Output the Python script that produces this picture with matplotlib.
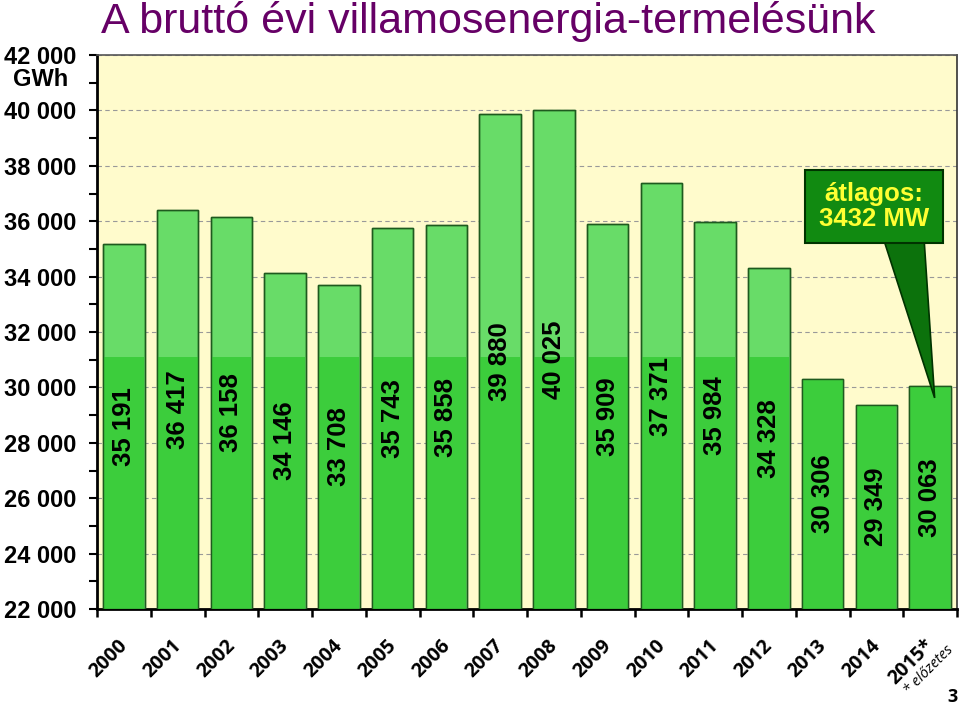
import matplotlib
matplotlib.use("Agg")
import matplotlib.pyplot as plt
from matplotlib.patches import Rectangle, Polygon
from matplotlib.ticker import MultipleLocator, FuncFormatter

years = ["2000", "2001", "2002", "2003", "2004", "2005", "2006", "2007",
         "2008", "2009", "2010", "2011", "2012", "2013", "2014", "2015*"]
values = [35191, 36417, 36158, 34146, 33708, 35743, 35858, 39880,
          40025, 35909, 37371, 35984, 34328, 30306, 29349, 30063]
title = "A bruttó évi villamosenergia-termelésünk"
unit = "GWh"
callout = "átlagos:\n3432 MW"
note = "* előzetes"
page = "3"

ymin, ymax = 22000, 42000
shade_level = 31100

fig = plt.figure(figsize=(9.6, 7.07), dpi=100)
ax = fig.add_axes([97/960, 98/707, 860/960, 554/707])
ax.set_facecolor("#fffbcc")

x = list(range(len(years)))
light = "#68dc68"
dark = "#3ccd3c"
edge = "#1e5a1e"
ax.bar(x, [v - ymin for v in values], bottom=ymin, width=0.77,
       color=light, edgecolor=edge, linewidth=1.0, zorder=3)
ax.bar(x, [min(v, shade_level) - ymin for v in values], bottom=ymin, width=0.74,
       color=dark, edgecolor="none", linewidth=0, zorder=3.5)
ax.bar(x, [v - ymin for v in values], bottom=ymin, width=0.77,
       color="none", edgecolor=edge, linewidth=1.0, zorder=4)

for xi, v in zip(x, values):
    lab = f"{v:,}".replace(",", " ")
    ax.text(xi, (ymin + v) / 2, lab, rotation=90, ha="center", va="center",
            fontsize=18.5, fontweight="bold", family="Liberation Sans",
            color="black", zorder=5)

ax.set_xlim(-0.5, len(years) - 0.5)
ax.set_ylim(ymin, ymax)
ax.yaxis.set_major_locator(MultipleLocator(2000))
ax.yaxis.set_minor_locator(MultipleLocator(1000))
ax.yaxis.set_major_formatter(FuncFormatter(lambda v, p: f"{int(v):,}".replace(",", " ")))
ax.tick_params(axis="y", which="both", direction="out", length=5.5, width=1.5,
               labelsize=17, pad=9.5)
for t in ax.yaxis.get_major_ticks():
    t.label1.set_family("Liberation Sans")
    t.label1.set_fontweight("bold")
ax.grid(axis="y", which="major", linestyle=(0, (4, 3)), color="#999999",
        linewidth=0.8, zorder=1)

ax.set_xticks([i - 0.5 for i in range(len(years) + 1)])
ax.set_xticklabels([])
ax.tick_params(axis="x", which="both", direction="out", length=6, width=1.8)
for i, yl in enumerate(years):
    ax.text(i - 0.12, -0.048, yl, transform=ax.get_xaxis_transform(),
            rotation=45, ha="right", va="top", rotation_mode="anchor",
            fontsize=14, fontweight="bold", family="Open Sans", color="black")

for s in ["left", "bottom"]:
    ax.spines[s].set_linewidth(2)
    ax.spines[s].set_color("black")
ax.spines["top"].set_color("#555555")
ax.spines["top"].set_linewidth(1.2)
ax.spines["right"].set_color("#333333")
ax.spines["right"].set_linewidth(1.2)

# unit label
fig.text(41/960, 1 - 80/707, unit, ha="center", va="center",
         fontsize=17, family="Liberation Sans", fontweight="bold")

fig.text(488/960, 1 - 21/707, title, ha="center", va="center",
         fontsize=31, color="#660066", family="Liberation Sans")

# callout
tri = Polygon([(0.916, 0.661), (0.962, 0.661), (0.974, 0.381)], closed=True,
              transform=ax.transAxes, facecolor="#0c720c", edgecolor="#003300",
              linewidth=1.2, zorder=6)
ax.add_patch(tri)
box = Rectangle((0.823, 0.661), 0.161, 0.131, transform=ax.transAxes,
                facecolor="#118a11", edgecolor="#003300", linewidth=1.5, zorder=7)
ax.add_patch(box)
ax.text(0.9035, 0.7265, callout, transform=ax.transAxes, ha="center",
        va="center", fontsize=18.5, fontweight="bold", color="#ffff33",
        family="Liberation Sans", linespacing=1.1, zorder=8)

fig.text(929/960, 1 - 670/707, note, rotation=45, ha="center", va="center",
         fontsize=10.5, style="italic", family="Open Sans")
fig.text(953/960, 1 - 697/707, page, ha="center", va="center",
         fontsize=13, fontweight="bold", family="Open Sans")

fig.savefig("out.png", dpi=100)
